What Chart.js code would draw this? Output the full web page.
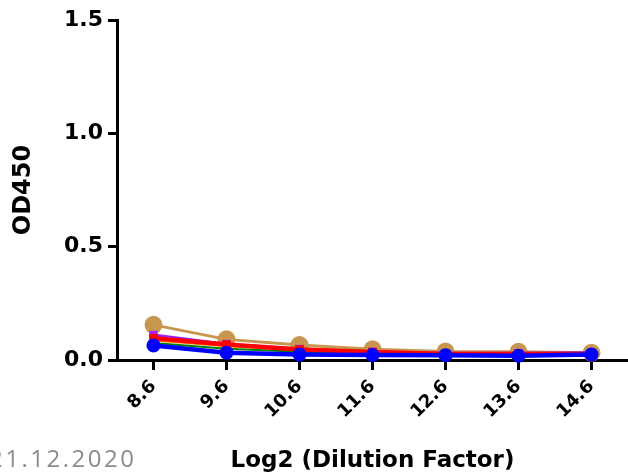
<!DOCTYPE html>
<html>
<head>
<meta charset="utf-8">
<script src="https://cdn.jsdelivr.net/npm/chart.js@4.4.0/dist/chart.umd.min.js"></script>
<style>
  html, body { margin: 0; padding: 0; background: #fff; }
  #wrap { position: relative; width: 628px; height: 475px; overflow: hidden; }
  #stamp {
    position: absolute; left: -11px; top: 441px;
    font-family: 'Open Sans', sans-serif; font-size: 24px; color: #8c8c8c;
    letter-spacing: 2.5px;
  }
</style>
</head>
<body>
<div id="wrap">
  <canvas id="chart" width="628" height="475"></canvas>
  <div id="stamp">21.12.2020</div>
</div>
<script>
const dilution = [8.6, 9.6, 10.6, 11.6, 12.6, 13.6, 14.6];
const yTicks = [0, 0.5, 1.0, 1.5];

const tanVals    = [0.155, 0.091, 0.066, 0.047, 0.037, 0.036, 0.032];
const orangeVals = [0.085, 0.060, 0.045, 0.036, 0.030, 0.030, 0.030];
const purpleVals = [0.110, 0.070, 0.048, 0.036, 0.030, 0.030, 0.032];
const greenVals  = [0.075, 0.050, 0.036, 0.030, 0.026, 0.026, 0.026];
const redVals    = [0.096, 0.068, 0.046, 0.035, 0.027, 0.027, 0.027];
const blueVals   = [0.064, 0.032, 0.024, 0.022, 0.021, 0.019, 0.024];

const FONT = 'DejaVu Sans';

const pts = (vals) => vals.map((v, i) => ({ x: dilution[i], y: v }));

const el = (id) => document.getElementById(id);

function series(vals, color, style, radius, width, order) {
  return {
    data: pts(vals),
    borderColor: color,
    backgroundColor: color,
    pointStyle: style,
    pointRadius: radius,
    pointBorderWidth: 0,
    borderWidth: width,
    tension: 0,
    clip: false,
    order,
  };
}

new Chart(el('chart'), {
  type: 'line',
  data: {
    datasets: [
      series(blueVals, '#0000ff', 'circle', 7, 4.5, 1),
      series(redVals, '#ff0000', 'rect', 6, 4.5, 2),
      series(greenVals, '#008000', false, 0, 2, 3),
      series(purpleVals, '#a020f0', 'rect', 6, 3, 4),
      series(orangeVals, '#ff8c00', false, 0, 1.5, 5),
      series(tanVals, '#c8964f', 'circle', 9, 3, 6),
    ],
  },
  options: {
    responsive: false,
    animation: false,
    layout: { autoPadding: false, padding: { top: 20, right: 0, left: 0, bottom: 0 } },
    plugins: { legend: { display: false }, tooltip: { enabled: false } },
    scales: {
      x: {
        type: 'linear',
        min: 8.1,
        max: 15.1,
        afterBuildTicks: (s) => { s.ticks = dilution.map(v => ({ value: v })); },
        afterFit: (s) => { s.height = 115; s.paddingRight = 0; s.paddingLeft = 0; },
        border: { color: '#000', width: 3 },
        grid: { drawOnChartArea: false, color: '#000', lineWidth: 3, tickLength: 10 },
        ticks: {
          color: '#000',
          font: { family: FONT, weight: 'bold', size: 18 },
          maxRotation: 45,
          minRotation: 45,
          padding: 6,
          callback: (v) => String(v),
        },
        title: {
          display: true,
          text: 'Log2 (Dilution Factor)',
          color: '#000',
          font: { family: FONT, weight: 'bold', size: 23 },
          padding: { top: 0, bottom: 0 },
        },
      },
      y: {
        min: 0,
        max: 1.5,
        afterBuildTicks: (s) => { s.ticks = yTicks.map(v => ({ value: v })); },
        afterFit: (s) => { s.width = 117; },
        border: { color: '#000', width: 3 },
        grid: { drawOnChartArea: false, color: '#000', lineWidth: 3, tickLength: 9 },
        ticks: {
          color: '#000',
          font: { family: FONT, weight: 'bold', size: 22 },
          padding: 5,
          callback: (v) => v.toFixed(1),
        },
        title: {
          display: true,
          text: 'OD450',
          color: '#000',
          font: { family: FONT, weight: 'bold', size: 24, lineHeight: 2 },
          padding: { top: 0, bottom: 0 },
        },
      },
    },
  },
});
</script>
</body>
</html>
